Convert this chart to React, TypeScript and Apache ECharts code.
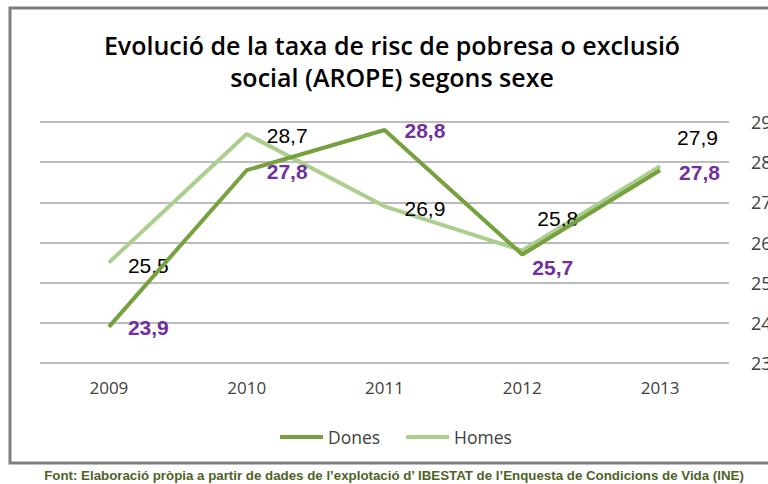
import React, { useEffect, useRef } from "react";
import * as echarts from "echarts";

const categories = ["2009", "2010", "2011", "2012", "2013"];
const dones = [23.9, 27.8, 28.8, 25.7, 27.8];
const homes = [25.5, 28.7, 26.9, 25.8, 27.9];
const seriesNames = ["Dones", "Homes"];
const titleLines = ["Evolució de la taxa de risc de pobresa o exclusió", "social (AROPE) segons sexe"];
const sourceText = "Font: Elaboració pròpia a partir de dades de l’explotació d’ IBESTAT de l’Enquesta de Condicions de Vida (INE)";

const donesLabelOffsets = [
  [19, 1],
  [20, 1],
  [20, 0],
  [10, 13],
  [19, 2],
];
const homesLabelOffsets = [
  [19, 3],
  [20, 1],
  [20, 2],
  [15, -32],
  [17, -29],
];

const fmt = (v: number) => v.toFixed(1).replace(".", ",");

export default function App() {
  const ref = useRef<HTMLDivElement>(null);
  useEffect(() => {
    if (!ref.current) return;
    const chart = echarts.init(ref.current, null, { renderer: "svg" });
    const calibri = "'Open Sans', sans-serif";
    chart.setOption({
      animation: false,
      backgroundColor: "#ffffff",
      graphic: [
        {
          type: "rect",
          shape: { x: 10, y: 8, width: 780, height: 455 },
          style: { fill: "none", stroke: "#7f7f7f", lineWidth: 3 },
          z: 0,
        },
        {
          type: "text",
          x: 392,
          y: 29,
          style: {
            text: titleLines.join("\n"),
            font: `600 25px ${calibri}`,
            fill: "#000000",
            textAlign: "center",
            lineHeight: 32,
          },
        },
        {
          type: "text",
          x: 394,
          y: 469,
          style: {
            text: sourceText,
            font: "bold 13.3px 'Liberation Sans', Arial, sans-serif",
            fill: "#4f6228",
            textAlign: "center",
          },
        },
      ],
      legend: {
        data: seriesNames,
        bottom: 33,
        left: 275,
        icon: "rect",
        itemWidth: 43,
        itemHeight: 4,
        itemGap: 26,
        textStyle: { fontFamily: calibri, fontSize: 17.5, color: "#404040" },
      },
      grid: {
        left: 40,
        right: 39,
        top: 122,
        bottom: 121,
        containLabel: false,
        outerBoundsMode: "none",
      },
      xAxis: {
        type: "category",
        data: categories,
        boundaryGap: true,
        axisLine: { show: false },
        axisTick: { show: false },
        axisLabel: { fontFamily: calibri, fontSize: 17, color: "#404040", margin: 16 },
      },
      yAxis: {
        type: "value",
        position: "right",
        min: 23,
        max: 29,
        interval: 1,
        axisLine: { show: false },
        axisTick: { show: false },
        splitLine: { lineStyle: { color: "#a6a6a6", width: 1.5 } },
        axisLabel: { fontFamily: calibri, fontSize: 18, color: "#404040", margin: 22 },
      },
      series: [
        {
          name: seriesNames[0],
          type: "line",
          data: dones.map((v, i) => ({
            value: v,
            label: { offset: donesLabelOffsets[i] },
          })),
          showSymbol: true,
          symbol: "circle",
          symbolSize: 0,
          lineStyle: { color: "#77a03f", width: 4 },
          itemStyle: { color: "#77a03f" },
          z: 3,
          label: {
            show: true,
            position: "right",
            distance: 0,
            formatter: (p: any) => fmt(p.value),
            fontFamily: "'Liberation Sans', Arial, sans-serif",
            fontSize: 21,
            fontWeight: "bold",
            color: "#7030a0",
          },
        },
        {
          name: seriesNames[1],
          type: "line",
          data: homes.map((v, i) => ({
            value: v,
            label: { offset: homesLabelOffsets[i] },
          })),
          showSymbol: true,
          symbol: "circle",
          symbolSize: 0,
          lineStyle: { color: "#acce8f", width: 4 },
          itemStyle: { color: "#acce8f" },
          z: 2,
          label: {
            show: true,
            position: "right",
            distance: 0,
            formatter: (p: any) => fmt(p.value),
            fontFamily: "'Liberation Sans', Arial, sans-serif",
            fontSize: 21,
            color: "#000000",
          },
        },
      ],
    });
    return () => chart.dispose();
  }, []);
  return (
    <div
      ref={ref}
      style={{ position: "absolute", left: 0, top: 0, width: 768, height: 484 }}
    />
  );
}
